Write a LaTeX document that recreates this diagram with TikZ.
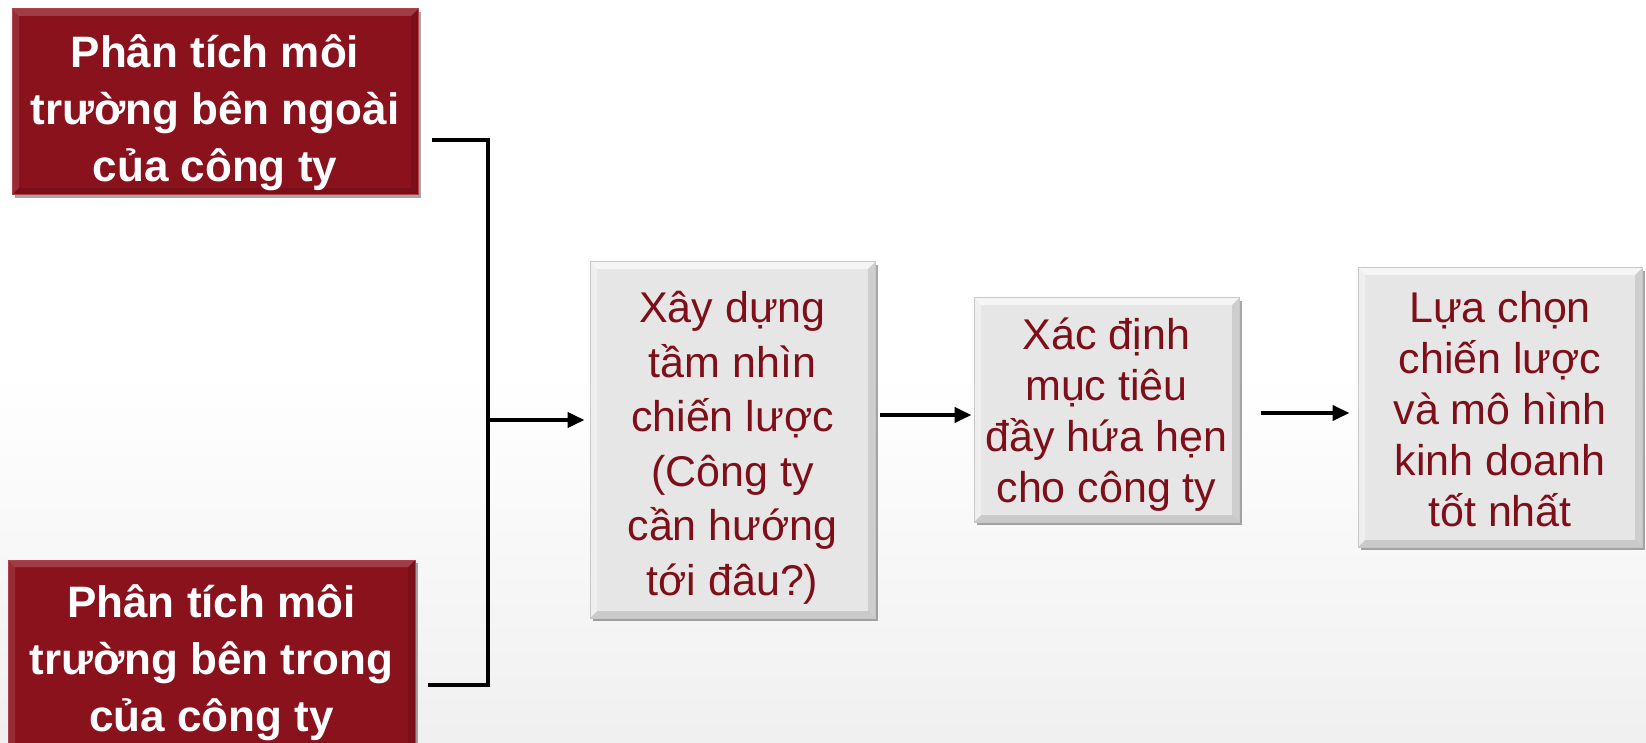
\documentclass[tikz,border=0pt]{standalone}
\usepackage{fontspec}
\setmainfont{Liberation Sans}
\usetikzlibrary{arrows.meta,shadows,calc}
\definecolor{boxred}{HTML}{8A121D}
\definecolor{boxredlight}{HTML}{B0404A}
\definecolor{txtred}{HTML}{7E0E18}
\definecolor{boxgrey}{HTML}{E6E6E7}
\tikzset{
  bevel/.style={path picture={
    \fill[white, opacity=#1] (path picture bounding box.north west) -- (path picture bounding box.north east)
       -- ([xshift=-7pt,yshift=-7pt]path picture bounding box.north east) -- ([xshift=7pt,yshift=-7pt]path picture bounding box.north west) -- cycle;
    \fill[black, opacity=0.12] (path picture bounding box.south west) -- (path picture bounding box.south east)
       -- ([xshift=-7pt,yshift=7pt]path picture bounding box.south east) -- ([xshift=7pt,yshift=7pt]path picture bounding box.south west) -- cycle;
    \fill[black, opacity=0.10] (path picture bounding box.north east) -- (path picture bounding box.south east)
       -- ([xshift=-7pt,yshift=7pt]path picture bounding box.south east) -- ([xshift=-7pt,yshift=-7pt]path picture bounding box.north east) -- cycle;
    \fill[white, opacity=#1*0.6] (path picture bounding box.north west) -- (path picture bounding box.south west)
       -- ([xshift=7pt,yshift=7pt]path picture bounding box.south west) -- ([xshift=7pt,yshift=-7pt]path picture bounding box.north west) -- cycle;
  }},
  redbox/.style={draw=boxredlight, line width=1pt, fill=boxred, bevel=0.18,
    inner sep=0pt,
    drop shadow={shadow xshift=3pt, shadow yshift=-3pt, fill=black, opacity=0.35}},
  redtext/.style={text=white, align=center, inner sep=0pt,
    font=\fontsize{44}{57}\selectfont\bfseries},
  greybox/.style={draw=black!22, line width=1pt, fill=boxgrey, bevel=0.6,
    inner sep=0pt,
    drop shadow={shadow xshift=3pt, shadow yshift=-3pt, fill=black, opacity=0.35}},
  greytext/.style={text=txtred, align=center, inner sep=0pt,
    font=\fontsize{43}{#1}\selectfont},
  conn/.style={line width=4pt, black},
  arr/.style={conn, -{Triangle[length=17pt,width=15pt]}}
}
\begin{document}
\begin{tikzpicture}[x=1pt,y=-1pt]
\useasboundingbox (0,0) rectangle (1646,743);
\clip (0,0) rectangle (1646,743);
\shade[top color=white, bottom color=black!6, middle color=white] (0,0) rectangle (1646,743);

\node[redbox, minimum width=406pt, minimum height=186pt] (ext) at (215,102) {};
\node[redtext] (extt) at ([yshift=-11pt]ext.center)
  {Phân tích môi\\trường bên ngoài\\của công ty};
\node[redbox, minimum width=407pt, minimum height=202pt] (int) at (211.5,661) {};
\node[redtext] (intt) at ([yshift=-2pt]int.center)
  {Phân tích môi\\trường bên trong\\của công ty};

\node[greybox, minimum width=285pt, minimum height=356pt] (g1) at (732.5,440) {};
\node[greytext=54.5] (g1t) at ([yshift=-8pt]g1.center)
  {Xây dựng\\tầm nhìn\\chiến lược\\(Công ty\\cần hướng\\tới đâu?)};
\node[greybox, minimum width=265pt, minimum height=224pt] (g2) at (1106.5,410) {};
\node[greytext=51] (g2t) at ([yshift=-5pt]g2.center)
  {Xác định\\mục tiêu\\đầy hứa hẹn\\cho công ty};
\node[greybox, minimum width=284pt, minimum height=279pt] (g3) at (1500,407.5) {};
\node[greytext=51] (g3t) at ([yshift=-2pt]g3.center)
  {Lựa chọn\\chiến lược\\và mô hình\\kinh doanh\\tốt nhất};

\coordinate (bt) at (432,140);
\coordinate (bj) at (488,420);
\coordinate (bb) at (428,685);
\draw[conn] (bt) -| (bj) |- (bb);
\draw[arr, shorten >=5pt] (bj) -- (bj -| g1.west);
\draw[arr, shorten >=2pt] ([xshift=4pt,yshift=25pt]g1.east) -- ([yshift=25pt]g1.east -| g2.west);
\draw[arr, shorten >=8pt] ([xshift=21pt,yshift=-3pt]g2.east) -- ([yshift=-3pt]g2.east -| g3.west);
\end{tikzpicture}
\end{document}
